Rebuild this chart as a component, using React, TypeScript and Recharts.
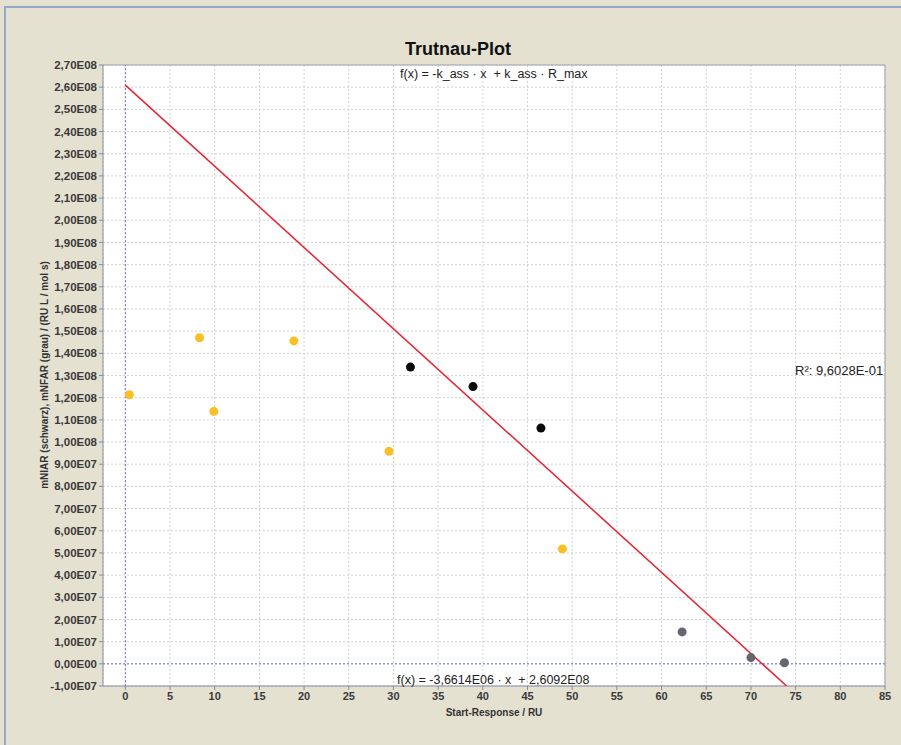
import React from 'react'
import {
  ScatterChart,
  Scatter,
  XAxis,
  YAxis,
  CartesianGrid,
  ReferenceLine,
} from 'recharts'

// start response (RU) / rate values
const greyX = [0.45, 8.3, 9.9, 18.85, 29.5, 48.9]
const greyY = [1.213e8, 1.47e8, 1.138e8, 1.456e8, 9.58e7, 5.18e7]

const blackX = [31.9, 38.9, 46.5]
const blackY = [1.338e8, 1.25e8, 1.063e8]

const lowX = [62.3, 70.0, 73.75]
const lowY = [1.44e7, 2.8e6, 5e5]

// linear fit f(x) = slope * x + intercept
const slope = -3.6614e6
const intercept = 2.6092e8
const fitX = [0, 73.99]

const xTicks = [0, 5, 10, 15, 20, 25, 30, 35, 40, 45, 50, 55, 60, 65, 70, 75, 80, 85]
const yTicks = [
  -1e7, 0, 1e7, 2e7, 3e7, 4e7, 5e7, 6e7, 7e7, 8e7, 9e7, 1e8, 1.1e8, 1.2e8, 1.3e8,
  1.4e8, 1.5e8, 1.6e8, 1.7e8, 1.8e8, 1.9e8, 2e8, 2.1e8, 2.2e8, 2.3e8, 2.4e8,
  2.5e8, 2.6e8, 2.7e8,
]

const toPoints = (xs: number[], ys: number[]) => xs.map((x, i) => ({ x, y: ys[i] }))

function sci(v: number) {
  if (v === 0) return '0,00E00'
  const exp = Math.floor(Math.log10(Math.abs(v)) + 1e-9)
  const mant = v / Math.pow(10, exp)
  const e = (exp < 0 ? '-' : '') + String(Math.abs(exp)).padStart(2, '0')
  return mant.toFixed(2).replace('.', ',') + 'E' + e
}

const font = '"Liberation Sans", Arial, sans-serif'
const yTickStyle = { fontSize: 11.5, fill: '#3a3a3a', fontWeight: 'bold' as const, fontFamily: font }
const xTickStyle = { fontSize: 11, fill: '#3a3a3a', fontWeight: 'bold' as const, fontFamily: font }

const Dot = (color: string) => (props: any) =>
  <circle cx={props.cx} cy={props.cy} r={4.5} fill={color} />

export default function App() {
  const fitData = fitX.map((x) => ({ x, y: slope * x + intercept }))
  return (
    <div
      style={{
        position: 'absolute',
        left: 0,
        top: 0,
        width: 901,
        height: 745,
        background: '#e4e1d1',
        fontFamily: font,
      }}
    >
      <div
        style={{
          position: 'absolute',
          left: 4,
          top: 6,
          width: 897,
          height: 739,
          borderLeft: '2px solid #92aac8',
          borderTop: '2px solid #92aac8',
          boxSizing: 'border-box',
        }}
      />
      <ScatterChart
        width={901}
        height={745}
        margin={{ top: 65, right: 16, bottom: 29, left: 38 }}
        style={{ position: 'absolute', left: 0, top: 0 }}
      >
        <CartesianGrid fill="#ffffff" stroke="#d2d2d2" strokeDasharray="2 2" />
        <XAxis
          type="number"
          dataKey="x"
          domain={[-2.5, 85]}
          ticks={xTicks}
          allowDataOverflow
          height={30}
          tick={xTickStyle}
          tickSize={4}
          axisLine={{ stroke: '#8a8a9a' }}
          tickLine={{ stroke: '#8a8a9a' }}
        />
        <YAxis
          type="number"
          dataKey="y"
          domain={[-1e7, 2.7e8]}
          ticks={yTicks}
          interval={0}
          allowDataOverflow
          width={65}
          tick={yTickStyle}
          tickSize={4}
          tickFormatter={sci}
          axisLine={{ stroke: '#8a8a9a' }}
          tickLine={{ stroke: '#8a8a9a' }}
        />
        <ReferenceLine y={2.7e8} stroke="#a0a0a8" />
        <ReferenceLine x={85} stroke="#a0a0a8" />
        <ReferenceLine x={0} stroke="#6f6fe8" strokeDasharray="2 2" />
        <ReferenceLine y={0} stroke="#6f6fe8" strokeDasharray="2 2" />
        <Scatter
          data={fitData}
          line={{ stroke: '#e8202e', strokeWidth: 1.5 }}
          shape={() => null}
          isAnimationActive={false}
        />
        <Scatter data={toPoints(greyX, greyY)} shape={Dot('#fbbf24')} isAnimationActive={false} />
        <Scatter data={toPoints(blackX, blackY)} shape={Dot('#0a0a0a')} isAnimationActive={false} />
        <Scatter data={toPoints(lowX, lowY)} shape={Dot('#666670')} isAnimationActive={false} />
      </ScatterChart>
      <svg
        width={901}
        height={745}
        style={{ position: 'absolute', left: 0, top: 0, pointerEvents: 'none' }}
        fontFamily={font}
      >
        <text x={458} y={55} textAnchor="middle" fontSize={18} fontWeight="bold" fill="#111">
          Trutnau-Plot
        </text>
        <text x={400} y={78} fontSize={12.5} fill="#222" style={{ whiteSpace: 'pre' }}>
          {'f(x) = -k_ass · x  + k_ass · R_max'}
        </text>
        <text x={397} y={684} fontSize={12.5} fill="#222" style={{ whiteSpace: 'pre' }}>
          {'f(x) = -3,6614E06 · x  + 2,6092E08'}
        </text>
        <text x={795} y={375} fontSize={13} fill="#222">
          R²: 9,6028E-01
        </text>
        <text x={494} y={716} textAnchor="middle" fontSize={10} fontWeight="bold" fill="#333">
          Start-Response / RU
        </text>
        <text
          x={48}
          y={375}
          textAnchor="middle"
          fontSize={10}
          fontWeight="bold"
          fill="#333"
          transform="rotate(-90 48 375)"
        >
          mNIAR (schwarz), mNFAR (grau) / (RU L / mol s)
        </text>
      </svg>
    </div>
  )
}
